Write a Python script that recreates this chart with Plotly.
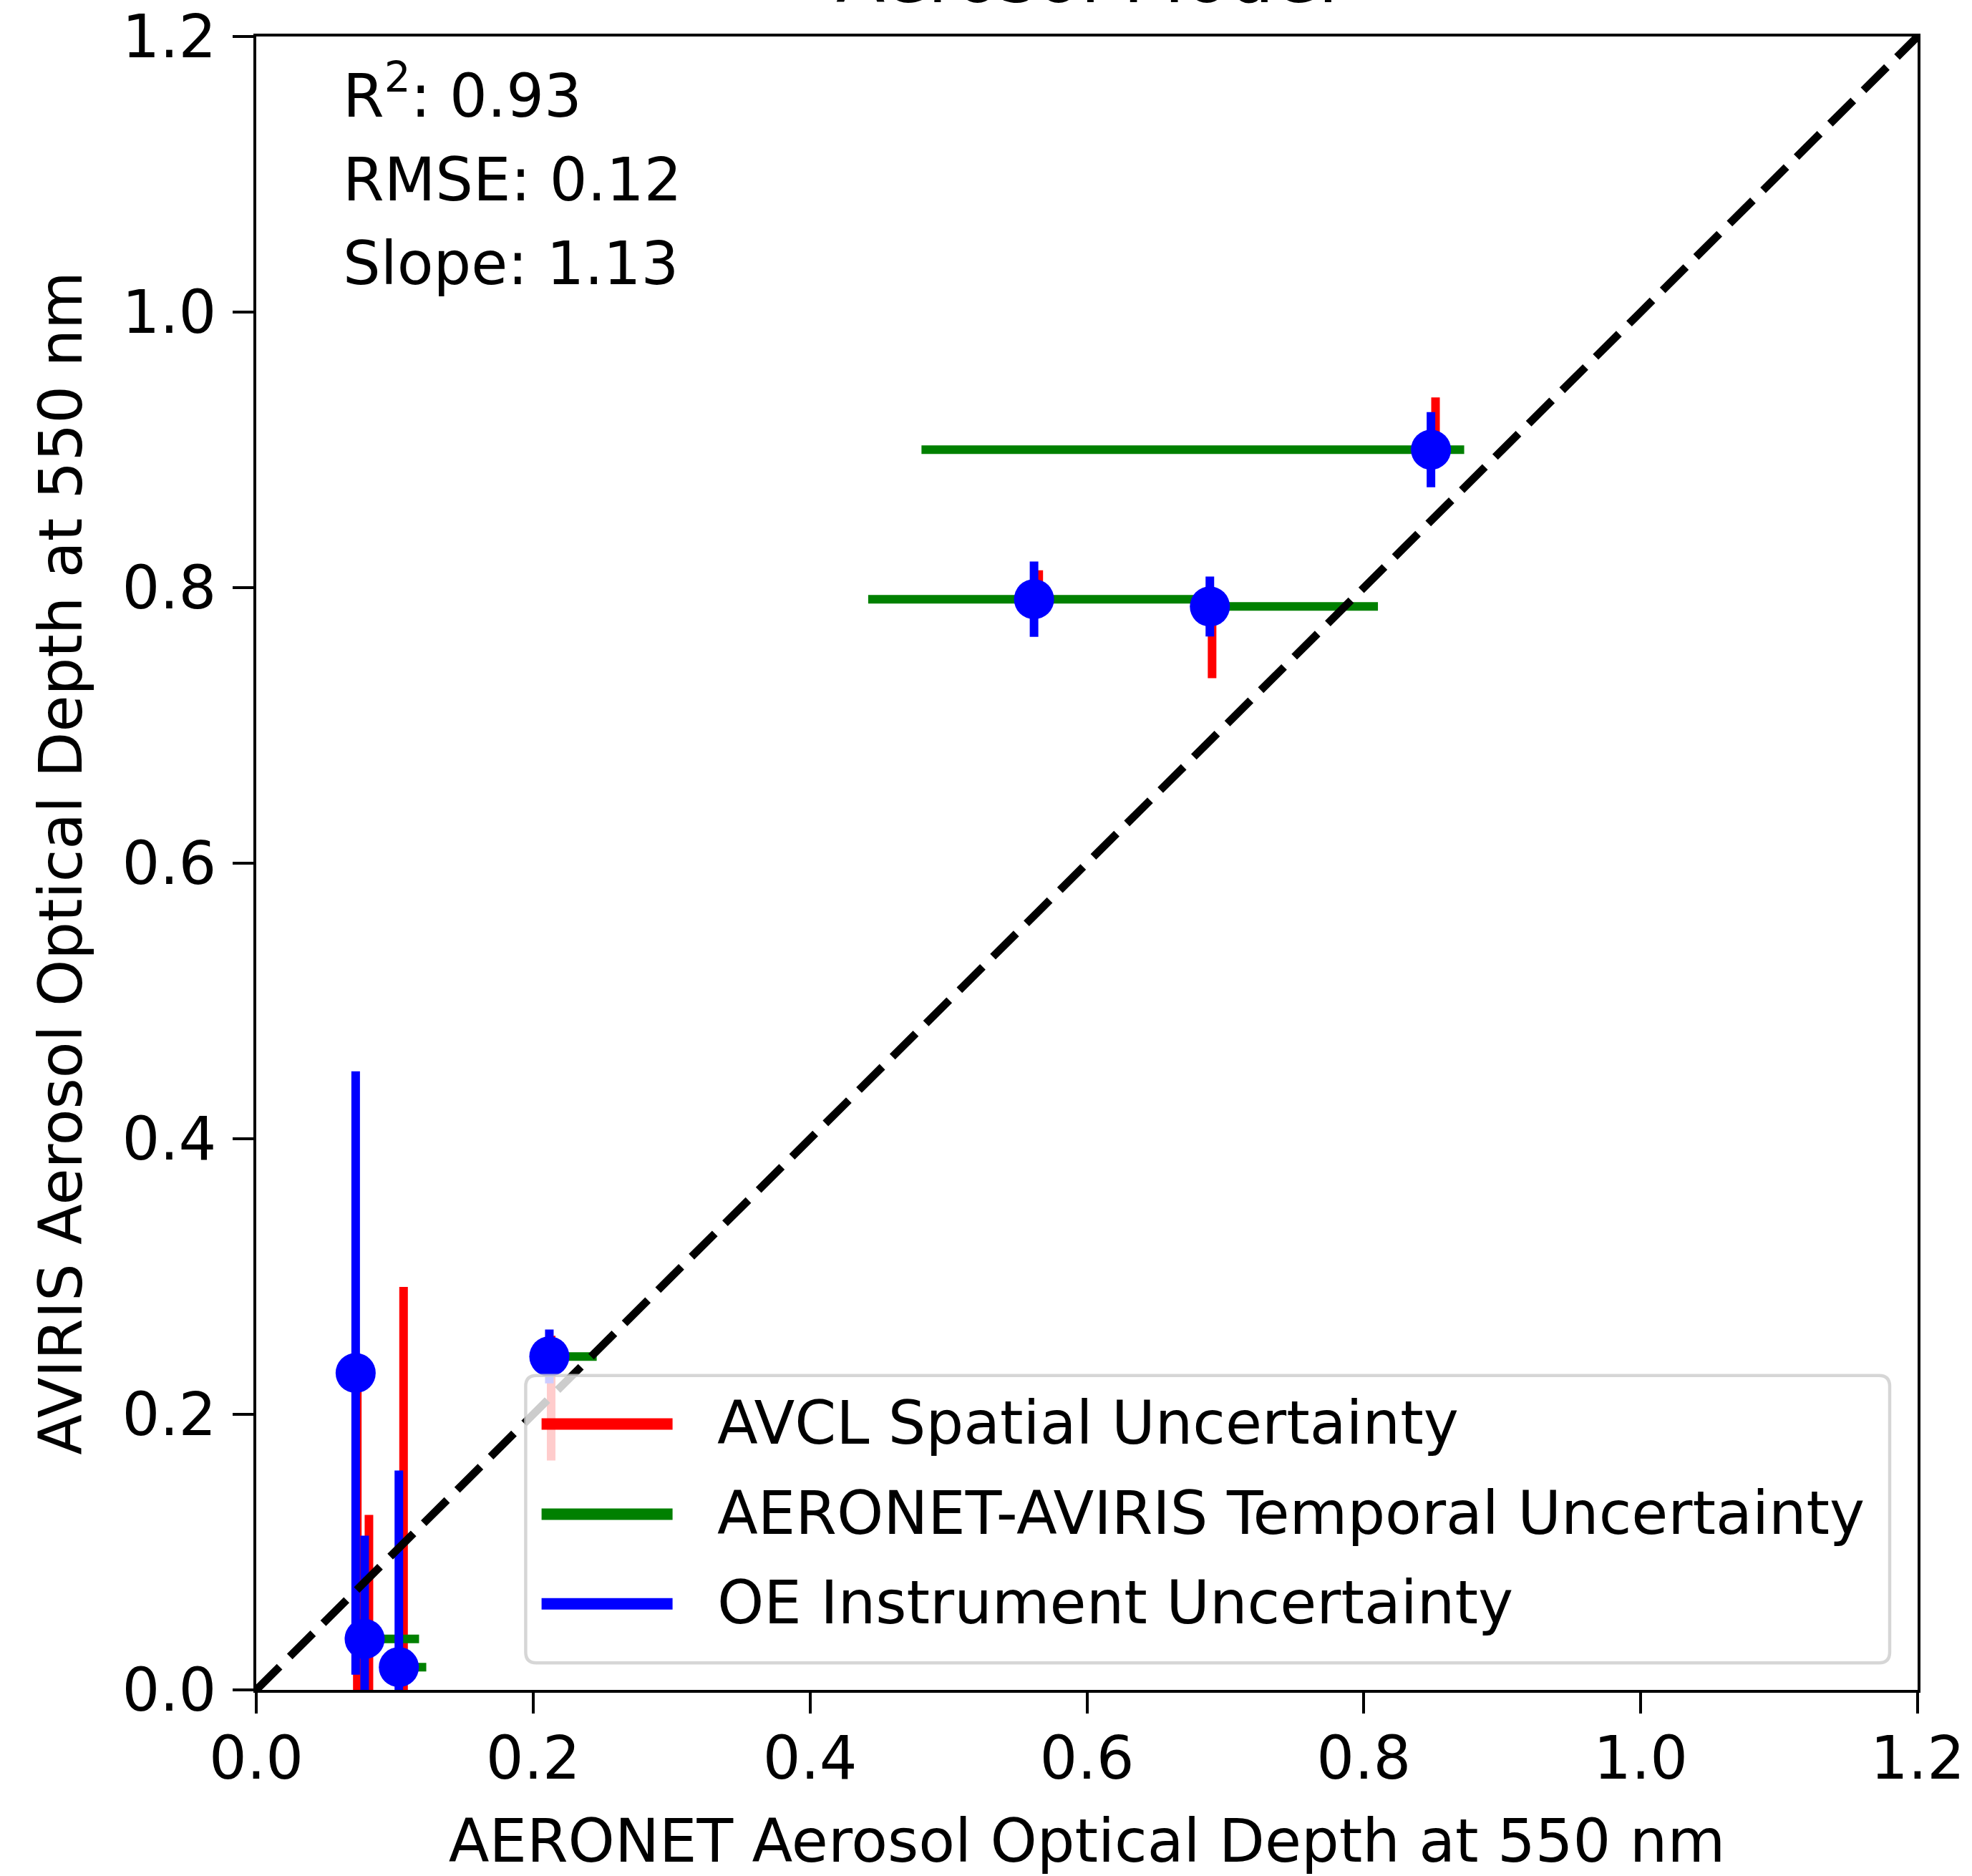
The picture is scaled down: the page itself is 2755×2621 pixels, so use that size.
import plotly.graph_objects as go

# ---- data: AOD at 550 nm for each matched AERONET / AVIRIS scene ----
aeronet_aod = [0.0718, 0.0783, 0.1030, 0.2117, 0.5618, 0.6888, 0.8485]
aviris_aod = [0.2300, 0.0370, 0.0165, 0.2420, 0.7916, 0.7863, 0.9001]

# OE instrument uncertainty (symmetric, AVIRIS AOD)
oe_unc = [0.2190, 0.0750, 0.1427, 0.0195, 0.0273, 0.0217, 0.0273]

# AVCL spatial uncertainty (AVIRIS AOD range), evaluated at its own AERONET match
aeronet_aod_spatial = [0.0730, 0.0814, 0.1064, 0.2130, 0.5652, 0.6904, 0.8518]
spatial_unc_plus = [0.010, 0.090, 0.276, 0.015, 0.021, 0.010, 0.038]
spatial_unc_minus = [0.240, 0.090, 0.276, 0.0755, 0.010, 0.052, 0.010]

# AERONET-AVIRIS temporal uncertainty (AERONET AOD range)
temporal_unc_minus = [0.005, 0.010, 0.005, 0.008, 0.1198, 0.010, 0.368]
temporal_unc_plus = [0.005, 0.0393, 0.0198, 0.0342, 0.1198, 0.1214, 0.024]

one_to_one = [0.0, 1.2]
tick_values = [0.0, 0.2, 0.4, 0.6, 0.8, 1.0, 1.2]
tick_text = ["0.0", "0.2", "0.4", "0.6", "0.8", "1.0", "1.2"]

stats_lines = ["R<sup>2</sup>: 0.93", "RMSE: 0.12", "Slope: 1.13"]
legend_labels = ["AVCL Spatial Uncertainty",
                 "AERONET-AVIRIS Temporal Uncertainty",
                 "OE Instrument Uncertainty"]
legend_colors = ["#ff0000", "#008000", "#0000ff"]

# ---- page geometry (pixels) ----
W, H = 2755, 2621
ML, MR, MT, MB = 358, 76, 51, 260
PW, PH = W - ML - MR, H - MT - MB
FONT = "DejaVu Sans"
FS = 83


def fx(px):
    """horizontal pixel -> paper fraction"""
    return (px - ML) / PW


def fy(py):
    """vertical pixel (from top) -> paper fraction"""
    return (H - MB - py) / PH


fig = go.Figure()

# spatial uncertainty (red vertical bars)
fig.add_trace(go.Scatter(
    x=aeronet_aod_spatial, y=aviris_aod, mode="markers",
    marker=dict(size=1, color="rgba(0,0,0,0)"),
    error_y=dict(type="data", symmetric=False, array=spatial_unc_plus,
                 arrayminus=spatial_unc_minus, color=legend_colors[0],
                 thickness=12, width=0),
    showlegend=False, hoverinfo="skip"))

# temporal uncertainty (green horizontal bars)
fig.add_trace(go.Scatter(
    x=aeronet_aod, y=aviris_aod, mode="markers",
    marker=dict(size=1, color="rgba(0,0,0,0)"),
    error_x=dict(type="data", symmetric=False, array=temporal_unc_plus,
                 arrayminus=temporal_unc_minus, color=legend_colors[1],
                 thickness=12, width=0),
    showlegend=False, hoverinfo="skip"))

# OE instrument uncertainty + retrieved points (blue)
fig.add_trace(go.Scatter(
    x=aeronet_aod, y=aviris_aod, mode="markers",
    marker=dict(size=56, color=legend_colors[2], line=dict(width=0)),
    error_y=dict(type="data", array=oe_unc, color=legend_colors[2],
                 thickness=12, width=0),
    showlegend=False))

# 1:1 line
fig.add_trace(go.Scatter(
    x=one_to_one, y=one_to_one, mode="lines",
    line=dict(color="black", width=11, dash="46px,20px"),
    showlegend=False, hoverinfo="skip"))

axis_common = dict(
    range=[0, 1.2], tickvals=tick_values, ticktext=tick_text,
    ticks="outside", ticklen=29, tickwidth=4, tickcolor="black",
    showline=True, linecolor="black", linewidth=4, mirror=True,
    showgrid=False, zeroline=False, automargin=False,
    tickfont=dict(family=FONT, size=FS, color="black"),
)

fig.update_layout(
    width=W, height=H,
    margin=dict(l=ML, r=MR, t=MT, b=MB, autoexpand=False),
    paper_bgcolor="white", plot_bgcolor="white",
    font=dict(family=FONT, size=FS, color="black"),
    showlegend=False,
    xaxis=dict(axis_common, ticklabelstandoff=-9,
               title=dict(text="AERONET Aerosol Optical Depth at 550 nm",
                          font=dict(family=FONT, size=FS), standoff=43)),
    yaxis=dict(axis_common, ticklabelstandoff=6,
               title=dict(text="AVIRIS Aerosol Optical Depth at 550 nm",
                          font=dict(family=FONT, size=FS), standoff=29)),
)

annotations = []

# title sits mostly above the top edge of the page
annotations.append(dict(
    text="Aerosol Model", xref="paper", yref="paper", x=0.5, y=fy(29),
    xanchor="center", yanchor="bottom", showarrow=False,
    font=dict(family=FONT, size=100, color="black")))

# fit statistics
for i, line in enumerate(stats_lines):
    annotations.append(dict(
        text=line, xref="paper", yref="paper", x=fx(477), y=fy(185 + 117 * i),
        xanchor="left", yanchor="bottom", showarrow=False,
        font=dict(family=FONT, size=FS, color="black")))

# legend frame (rounded, semi-transparent)
bx0, bx1 = fx(734.4), fx(2640)
by0, by1 = fy(2323.3), fy(1921.7)
rx, ry = 15 / PW, 15 / PH
frame_path = (
    f"M {bx0 + rx},{by0} L {bx1 - rx},{by0} Q {bx1},{by0} {bx1},{by0 + ry} "
    f"L {bx1},{by1 - ry} Q {bx1},{by1} {bx1 - rx},{by1} "
    f"L {bx0 + rx},{by1} Q {bx0},{by1} {bx0},{by1 - ry} "
    f"L {bx0},{by0 + ry} Q {bx0},{by0} {bx0 + rx},{by0} Z")
shapes = [dict(type="path", path=frame_path, xref="paper", yref="paper",
               layer="above", fillcolor="rgba(255,255,255,0.8)",
               line=dict(color="rgba(204,204,204,0.8)", width=4.5))]

row_y = [1989.5, 2115.5, 2240.8]
for label, color, ry_px in zip(legend_labels, legend_colors, row_y):
    shapes.append(dict(type="line", xref="paper", yref="paper", layer="above",
                       x0=fx(756.6), x1=fx(939.6), y0=fy(ry_px), y1=fy(ry_px),
                       line=dict(color=color, width=16)))
    annotations.append(dict(
        text=label, xref="paper", yref="paper", x=fx(999.5), y=fy(ry_px - 1.5),
        xanchor="left", yanchor="middle", showarrow=False,
        font=dict(family=FONT, size=FS, color="black")))

fig.update_layout(shapes=shapes, annotations=annotations)

fig.write_html("out.html")
